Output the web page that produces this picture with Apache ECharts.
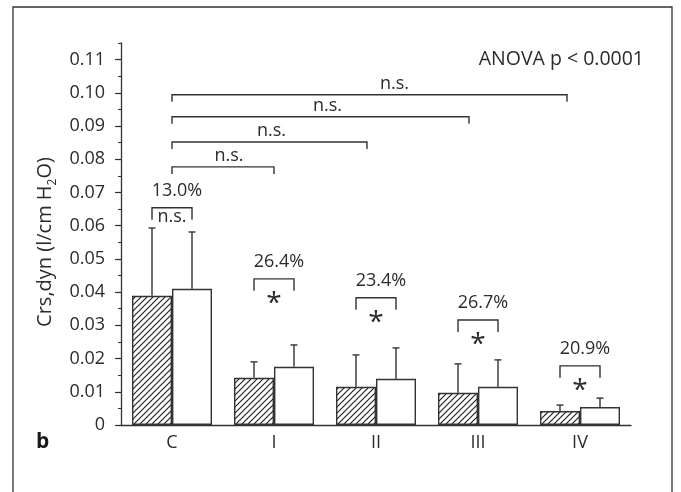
<!DOCTYPE html>
<html>
<head>
<meta charset="utf-8">
<script src="https://cdn.jsdelivr.net/npm/echarts@6/dist/echarts.min.js"></script>
<style>
  html, body { margin: 0; padding: 0; background: #fff; }
  #chart { width: 681px; height: 492px; }
</style>
</head>
<body>
<div id="chart"></div>
<script>
// Dynamic respiratory compliance per group: mean and SD for the two conditions
const categories = ['C', 'I', 'II', 'III', 'IV'];
const hatchedMean = [0.0389, 0.0142, 0.0115, 0.0097, 0.0042];
const hatchedSD   = [0.0204, 0.0048, 0.0096, 0.0087, 0.0018];
const openMean    = [0.0410, 0.0175, 0.0139, 0.0115, 0.0054];
const openSD      = [0.0171, 0.0066, 0.0093, 0.0081, 0.0027];

// Within-group comparison (hatched vs open)
const pairChange = ['13.0%', '26.4%', '23.4%', '26.7%', '20.9%'];
const pairMark   = ['n.s.', '*', '*', '*', '*'];
const pairLevel  = [0.0654, 0.0440, 0.0383, 0.0316, 0.0178];

// Comparisons of group C against the other groups
const compTarget = [1, 2, 3, 4];
const compMark   = ['n.s.', 'n.s.', 'n.s.', 'n.s.'];
const compLevel  = [0.0777, 0.0852, 0.0928, 0.0994];

const yTicks = [0, 0.01, 0.02, 0.03, 0.04, 0.05, 0.06, 0.07, 0.08, 0.09, 0.10, 0.11];
const yMinorTicks = [];
for (let k = 0; k <= 23; k++) yMinorTicks.push(+(k * 0.005).toFixed(3));

// layout / style constants
const FONT = '"Open Sans", "Noto Sans", sans-serif';
const INK = '#2b2b2b';
const LINE = '#333';
const BAR_W = 40;
const compEndInset = [0, 9, 9, 13];     // px the bracket stops short of the target centre
const compLabelShift = [6, 2, 7, 25];   // px shift of the "n.s." label from bracket middle

function hatchPattern() {
  const c = document.createElement('canvas');
  c.width = 6; c.height = 6;
  const g = c.getContext('2d');
  g.fillStyle = '#fff';
  g.fillRect(0, 0, 6, 6);
  g.strokeStyle = '#222';
  g.lineWidth = 1.2;
  g.beginPath();
  g.moveTo(0, 6); g.lineTo(6, 0);
  g.moveTo(-1, 1); g.lineTo(1, -1);
  g.moveTo(5, 7); g.lineTo(7, 5);
  g.stroke();
  return c;
}

const chart = echarts.init(document.getElementById('chart'), null, { renderer: 'canvas' });

function errorBarSeries(means, sds, dir) {
  return {
    type: 'custom',
    z: 5,
    data: categories.map((c, i) => [i, means[i], means[i] + sds[i]]),
    renderItem: function (params, api) {
      const base = api.coord([api.value(0), api.value(1)]);
      const top = api.coord([api.value(0), api.value(2)]);
      const x = base[0] + dir * BAR_W / 2;
      const st = { stroke: LINE, lineWidth: 1.4 };
      return {
        type: 'group',
        children: [
          { type: 'line', shape: { x1: x, y1: base[1], x2: x, y2: top[1] }, style: st },
          { type: 'line', shape: { x1: x - 3.5, y1: top[1], x2: x + 3.5, y2: top[1] }, style: st }
        ]
      };
    }
  };
}

const pairSeries = {
  type: 'custom',
  z: 6,
  data: categories.map((c, i) => [i, pairLevel[i]]),
  renderItem: function (params, api) {
    const i = params.dataIndex;
    const p = api.coord([api.value(0), api.value(1)]);
    const x1 = p[0] - BAR_W / 2, x2 = p[0] + BAR_W / 2, y = p[1];
    const st = { stroke: LINE, lineWidth: 1.4, fill: null };
    const isStar = pairMark[i] === '*';
    return {
      type: 'group',
      children: [
        { type: 'polyline', shape: { points: [[x1, y + 12], [x1, y], [x2, y], [x2, y + 12]] }, style: st },
        { type: 'text', x: p[0] + 5, y: y - 17,
          style: { text: pairChange[i], font: '18px ' + FONT, fill: INK, align: 'center', verticalAlign: 'middle' } },
        isStar
          ? { type: 'text', x: p[0], y: y + 11,
              style: { text: '*', font: '28px ' + FONT, fill: INK, align: 'center', verticalAlign: 'top' } }
          : { type: 'text', x: p[0], y: y + 9,
              style: { text: pairMark[i], font: '18px ' + FONT, fill: INK, align: 'center', verticalAlign: 'middle' } }
      ]
    };
  }
};

const compSeries = {
  type: 'custom',
  z: 6,
  data: compTarget.map((t, k) => [t, compLevel[k]]),
  renderItem: function (params, api) {
    const k = params.dataIndex;
    const start = api.coord([0, api.value(1)]);
    const end = api.coord([api.value(0), api.value(1)]);
    const x1 = start[0], x2 = end[0] - compEndInset[k], y = start[1];
    const st = { stroke: LINE, lineWidth: 1.4, fill: null };
    return {
      type: 'group',
      children: [
        { type: 'polyline', shape: { points: [[x1, y + 7], [x1, y], [x2, y], [x2, y + 7]] }, style: st },
        { type: 'text', x: (x1 + x2) / 2 + compLabelShift[k], y: y - 11,
          style: { text: compMark[k], font: '18px ' + FONT, fill: INK, align: 'center', verticalAlign: 'middle' } }
      ]
    };
  }
};

const option = {
  backgroundColor: '#fff',
  animation: false,
  textStyle: { fontFamily: FONT, color: INK },
  grid: { left: 121, right: 50, top: 43, bottom: 67 },
  xAxis: [
    {
      type: 'category',
      data: categories,
      axisLine: { lineStyle: { color: LINE, width: 1.3 } },
      axisTick: { alignWithLabel: true, length: 6, lineStyle: { color: LINE, width: 1.2 } },
      axisLabel: { fontSize: 18, color: INK, margin: 9, fontFamily: FONT }
    },
    {
      type: 'category',
      data: categories,
      position: 'bottom',
      axisLine: { show: false },
      axisTick: { alignWithLabel: false, length: 3, lineStyle: { color: LINE, width: 1.2 } },
      axisLabel: { show: false }
    }
  ],
  yAxis: [
    {
      type: 'value',
      min: 0,
      max: 0.115,
      interval: 0.01,
      splitLine: { show: false },
      axisLine: { show: true, lineStyle: { color: LINE, width: 1.3 } },
      axisTick: { show: true, length: 6, customValues: yTicks, lineStyle: { color: LINE, width: 1.2 } },
      axisLabel: {
        customValues: yTicks, fontSize: 18, color: INK, margin: 16, fontFamily: FONT,
        formatter: v => (v === 0 ? '0' : v.toFixed(2))
      },
      name: '{a|Crs,dyn (l/cm H}{s|2}{a|O)}',
      nameLocation: 'middle',
      nameRotate: 90,
      nameGap: 62,
      nameTextStyle: {
        padding: [0, 16, 0, 0],
        rich: {
          a: { fontSize: 20, fontFamily: FONT, color: INK, lineHeight: 26 },
          s: { fontSize: 12, fontFamily: FONT, color: INK, lineHeight: 12, verticalAlign: 'bottom' }
        }
      }
    },
    {
      type: 'value',
      min: 0,
      max: 0.115,
      interval: 0.005,
      position: 'left',
      splitLine: { show: false },
      axisLine: { show: false },
      axisTick: { show: true, length: 3, customValues: yMinorTicks, lineStyle: { color: LINE, width: 1.1 } },
      axisLabel: { show: false }
    }
  ],
  series: [
    {
      type: 'bar',
      data: hatchedMean,
      barWidth: BAR_W,
      barGap: '0%',
      itemStyle: { color: { image: hatchPattern(), repeat: 'repeat' }, borderColor: LINE, borderWidth: 1.4 }
    },
    {
      type: 'bar',
      data: openMean,
      barWidth: BAR_W,
      barGap: '0%',
      itemStyle: { color: '#fff', borderColor: LINE, borderWidth: 1.4 }
    },
    errorBarSeries(hatchedMean, hatchedSD, -1),
    errorBarSeries(openMean, openSD, 1),
    pairSeries,
    compSeries
  ],
  graphic: [
    { type: 'rect', shape: { x: 13, y: 7, width: 659, height: 520 },
      style: { fill: null, stroke: LINE, lineWidth: 1.3 }, silent: true },
    { type: 'text', right: 37, top: 49,
      style: { text: 'ANOVA p < 0.0001', font: '19.5px ' + FONT, fill: INK } },
    { type: 'text', left: 36, top: 432,
      style: { text: 'b', font: 'bold 21px ' + FONT, fill: '#1a1a1a' } }
  ]
};

chart.setOption(option);
</script>
</body>
</html>
